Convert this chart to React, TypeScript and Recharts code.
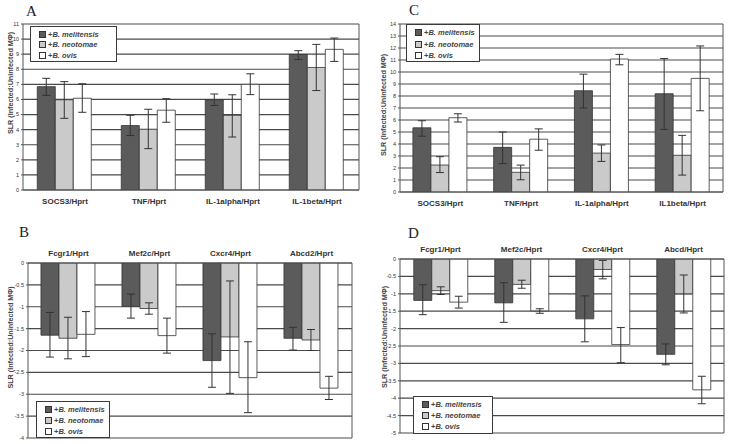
import React from 'react';
import { BarChart, Bar, XAxis, YAxis, CartesianGrid, ErrorBar, Legend } from 'recharts';

const FONT = '"Liberation Sans", Arial, Helvetica, sans-serif';
const SERIF = '"Liberation Serif", "Times New Roman", serif';

const speciesNames = ['B. melitensis', 'B. neotomae', 'B. ovis'];
const seriesColors = ['#5b5b5b', '#cacaca', '#ffffff'];
const yTitle = 'SLR (Infected:Uninfected MΦ)';

// Panel A
const aCategories = ['SOCS3/Hprt', 'TNF/Hprt', 'IL-1alpha/Hprt', 'IL-1beta/Hprt'];
const aMelitensis = [6.85, 4.27, 5.98, 8.98];
const aNeotomae = [5.98, 4.03, 4.95, 8.12];
const aOvis = [6.08, 5.29, 7.0, 9.32];
const aMelitensisErr = [[0.58, 0.55], [0.66, 0.68], [0.38, 0.38], [0.33, 0.25]];
const aNeotomaeErr = [[1.23, 1.2], [1.29, 1.32], [1.44, 1.36], [1.53, 1.53]];
const aOvisErr = [[0.93, 0.96], [0.8, 0.76], [0.68, 0.7], [0.8, 0.75]];
const aTicks = [0, 1, 2, 3, 4, 5, 6, 7, 8, 9, 10, 11];

// Panel B
const bCategories = ['Fcgr1/Hprt', 'Mef2c/Hprt', 'Cxcr4/Hprt', 'Abcd2/Hprt'];
const bMelitensis = [-1.65, -0.99, -2.23, -1.72];
const bNeotomae = [-1.72, -1.04, -1.69, -1.76];
const bOvis = [-1.63, -1.66, -2.62, -2.86];
const bMelitensisErr = [[0.5, 0.52], [0.27, 0.28], [0.61, 0.61], [0.27, 0.25]];
const bNeotomaeErr = [[0.47, 0.48], [0.13, 0.13], [1.29, 1.28], [0.24, 0.24]];
const bOvisErr = [[0.51, 0.52], [0.4, 0.4], [0.8, 0.82], [0.26, 0.27]];
const bTicks = [0, -0.5, -1, -1.5, -2, -2.5, -3, -3.5, -4];

// Panel C
const cCategories = ['SOCS3/Hprt', 'TNF/Hprt', 'IL-1alpha/Hprt', 'IL1beta/Hprt'];
const cMelitensis = [5.35, 3.72, 8.44, 8.19];
const cNeotomae = [2.25, 1.64, 3.24, 3.06];
const cOvis = [6.19, 4.4, 11.08, 9.47];
const cMelitensisErr = [[0.7, 0.59], [1.35, 1.28], [1.44, 1.38], [2.97, 2.93]];
const cNeotomaeErr = [[0.63, 0.69], [0.62, 0.6], [0.69, 0.68], [1.65, 1.66]];
const cOvisErr = [[0.36, 0.33], [0.92, 0.86], [0.48, 0.39], [2.7, 2.7]];
const cTicks = [0, 1, 2, 3, 4, 5, 6, 7, 8, 9, 10, 11, 12, 13, 14];

// Panel D
const dCategories = ['Fcgr1/Hprt', 'Mef2c/Hprt', 'Cxcr4/Hprt', 'Abcd/Hprt'];
const dMelitensis = [-1.19, -1.26, -1.72, -2.74];
const dNeotomae = [-0.91, -0.73, -0.3, -1.0];
const dOvis = [-1.24, -1.49, -2.46, -3.76];
const dMelitensisErr = [[0.41, 0.45], [0.56, 0.58], [0.66, 0.66], [0.3, 0.3]];
const dNeotomaeErr = [[0.11, 0.11], [0.11, 0.12], [0.27, 0.26], [0.55, 0.54]];
const dOvisErr = [[0.17, 0.17], [0.07, 0.06], [0.52, 0.49], [0.4, 0.39]];
const dTicks = [0, -0.5, -1, -1.5, -2, -2.5, -3, -3.5, -4, -4.5, -5];

function buildRows(cats: string[], mel: number[], neo: number[], ovis: number[], melE: number[][], neoE: number[][], ovisE: number[][]) {
  return cats.map((cat, i) => ({
    cat,
    mel: mel[i],
    neo: neo[i],
    ovis: ovis[i],
    melErr: melE[i],
    neoErr: neoE[i],
    ovisErr: ovisE[i],
  }));
}

const aRows = buildRows(aCategories, aMelitensis, aNeotomae, aOvis, aMelitensisErr, aNeotomaeErr, aOvisErr);
const bRows = buildRows(bCategories, bMelitensis, bNeotomae, bOvis, bMelitensisErr, bNeotomaeErr, bOvisErr);
const cRows = buildRows(cCategories, cMelitensis, cNeotomae, cOvis, cMelitensisErr, cNeotomaeErr, cOvisErr);
const dRows = buildRows(dCategories, dMelitensis, dNeotomae, dOvis, dMelitensisErr, dNeotomaeErr, dOvisErr);

const LegendBox = ({ width, height, padTop, rowH }: any) => (
  <div
    style={{
      width,
      height,
      boxSizing: 'border-box',
      border: '1px solid #3a3a3a',
      background: '#fff',
      paddingTop: padTop,
      paddingLeft: 8,
      fontFamily: FONT,
      fontSize: 7.5,
      fontWeight: 'bold',
      color: '#444',
    }}
  >
    {speciesNames.map((n, i) => (
      <div key={n} style={{ display: 'flex', alignItems: 'center', height: rowH, whiteSpace: 'nowrap' }}>
        <span
          style={{
            display: 'inline-block',
            width: 5,
            height: 5,
            border: '1px solid #333',
            background: seriesColors[i],
            marginRight: 2,
          }}
        />
        <span>
          +<i>{n}</i>
        </span>
      </div>
    ))}
  </div>
);

const YTitle = (props: any) => {
  const vb = props.viewBox || {};
  const x = vb.x + props.dx;
  const y = vb.y + vb.height / 2 + props.dy;
  return (
    <text
      x={x}
      y={y}
      transform={`rotate(-90 ${x} ${y})`}
      textAnchor="middle"
      dominantBaseline="central"
      fontFamily={FONT}
      fontSize={7.2}
      fontWeight="bold"
      fill="#444"
    >
      {yTitle}
    </text>
  );
};

type PanelProps = {
  rows: any[];
  ticks: number[];
  domain: [number, number];
  left: number;
  top: number;
  width: number;
  height: number;
  margin: { top: number; right: number; bottom: number; left: number };
  yWidth: number;
  xOrient: 'top' | 'bottom';
  xHeight: number;
  xTickMargin: number;
  gap: string;
  legend: { left: number; top: number; width: number; height: number; padTop: number; rowH: number };
  title: { dx: number; dy: number };
};

const Panel = (p: PanelProps) => (
  <div style={{ position: 'absolute', left: p.left, top: p.top, width: p.width, height: p.height }}>
    <BarChart
      width={p.width}
      height={p.height}
      data={p.rows}
      margin={p.margin}
      barGap={0}
      barCategoryGap={p.gap}
    >
      <CartesianGrid vertical={false} stroke="#4a4a4a" strokeWidth={1.2} />
      <XAxis
        dataKey="cat"
        orientation={p.xOrient}
        height={p.xHeight}
        interval={0}
        tickLine={false}
        tickSize={0}
        tickMargin={p.xTickMargin}
        axisLine={{ stroke: '#555' }}
        tick={{ fontSize: 8, fontWeight: 'bold', fill: '#333', fontFamily: FONT }}
      />
      <YAxis
        type="number"
        domain={p.domain}
        ticks={p.ticks}
        interval={0}
        width={p.yWidth}
        allowDataOverflow
        tickSize={2}
        tickMargin={2}
        axisLine={{ stroke: '#555' }}
        tickLine={{ stroke: '#555' }}
        tick={{ fontSize: 5.5, fill: '#333', fontFamily: FONT }}
        label={(lp: any) => <YTitle {...lp} dx={p.title.dx} dy={p.title.dy} />}
      />
      <YAxis
        yAxisId="border"
        orientation="right"
        type="number"
        domain={p.domain}
        ticks={p.ticks}
        width={1}
        tick={false}
        tickLine={false}
        axisLine={{ stroke: '#555' }}
      />
      <Legend
        layout="vertical"
        align="center"
        verticalAlign="middle"
        wrapperStyle={{ left: p.legend.left, top: p.legend.top, width: p.legend.width, height: p.legend.height }}
        content={() => (
          <LegendBox width={p.legend.width} height={p.legend.height} padTop={p.legend.padTop} rowH={p.legend.rowH} />
        )}
      />
      <Bar dataKey="mel" name={speciesNames[0]} fill={seriesColors[0]} stroke="#333" strokeWidth={0.8} isAnimationActive={false}>
        <ErrorBar dataKey="melErr" width={4} stroke="#333" strokeWidth={1} direction="y" />
      </Bar>
      <Bar dataKey="neo" name={speciesNames[1]} fill={seriesColors[1]} stroke="#333" strokeWidth={0.8} isAnimationActive={false}>
        <ErrorBar dataKey="neoErr" width={4} stroke="#333" strokeWidth={1} direction="y" />
      </Bar>
      <Bar dataKey="ovis" name={speciesNames[2]} fill={seriesColors[2]} stroke="#333" strokeWidth={0.8} isAnimationActive={false}>
        <ErrorBar dataKey="ovisErr" width={4} stroke="#333" strokeWidth={1} direction="y" />
      </Bar>
    </BarChart>
  </div>
);

export default function App() {
  return (
    <div style={{ position: 'absolute', left: 0, top: 0, width: 729, height: 444, background: '#fff', overflow: 'hidden' }}>
      <Panel
        rows={aRows}
        ticks={aTicks}
        domain={[0, 11]}
        left={0}
        top={0}
        width={365}
        height={215}
        margin={{ top: 24, right: 5, bottom: 5, left: 10 }}
        yWidth={13}
        xOrient="bottom"
        xHeight={20}
        xTickMargin={8}
        gap="17%"
        legend={{ left: 30, top: 26, width: 87, height: 36, padTop: 2, rowH: 10.5 }}
        title={{ dx: 0, dy: -24 }}
      />
      <Panel
        rows={cRows}
        ticks={cTicks}
        domain={[0, 14]}
        left={360}
        top={0}
        width={369}
        height={215}
        margin={{ top: 24, right: 5, bottom: 5, left: 27 }}
        yWidth={13}
        xOrient="bottom"
        xHeight={18}
        xTickMargin={8}
        gap="16%"
        legend={{ left: 46, top: 24, width: 74, height: 38, padTop: 2, rowH: 11.5 }}
        title={{ dx: -4, dy: -3 }}
      />
      <Panel
        rows={bRows}
        ticks={bTicks}
        domain={[-4, 0]}
        left={0}
        top={240}
        width={365}
        height={204}
        margin={{ top: 8, right: 12, bottom: 6, left: 14 }}
        yWidth={14}
        xOrient="top"
        xHeight={15}
        xTickMargin={7}
        gap="16%"
        legend={{ left: 36, top: 161, width: 74, height: 37, padTop: 2, rowH: 11 }}
        title={{ dx: -4, dy: -13 }}
      />
      <Panel
        rows={dRows}
        ticks={dTicks}
        domain={[-5, 0]}
        left={360}
        top={240}
        width={369}
        height={204}
        margin={{ top: 4, right: 4, bottom: 11, left: 27 }}
        yWidth={13}
        xOrient="top"
        xHeight={15}
        xTickMargin={7}
        gap="17%"
        legend={{ left: 53, top: 156, width: 80, height: 38, padTop: 2, rowH: 11 }}
        title={{ dx: -3, dy: -9 }}
      />
      <svg width={729} height={444} style={{ position: 'absolute', left: 0, top: 0, pointerEvents: 'none' }}>
        <text x={26} y={16} fontFamily={SERIF} fontSize={15} fill="#222">A</text>
        <text x={409} y={15} fontFamily={SERIF} fontSize={15} fill="#222">C</text>
        <text x={19} y={237} fontFamily={SERIF} fontSize={15} fill="#222">B</text>
        <text x={408} y={238} fontFamily={SERIF} fontSize={15} fill="#222">D</text>
      </svg>
    </div>
  );
}
